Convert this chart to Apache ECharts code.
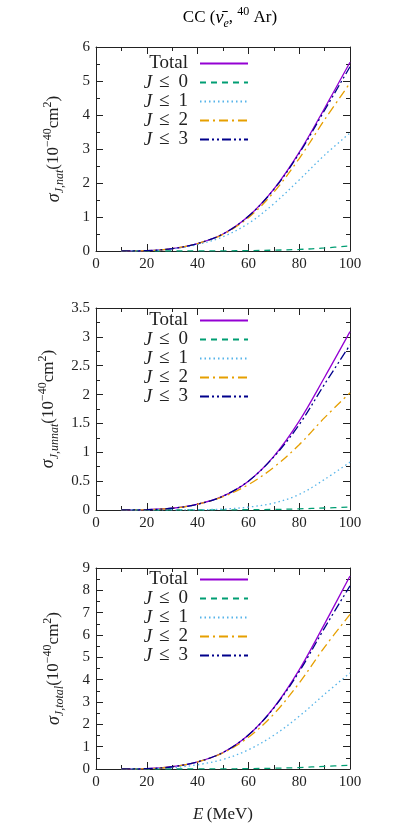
<!DOCTYPE html>
<html>
<head>
<meta charset="utf-8">
<script src="https://cdn.jsdelivr.net/npm/echarts@6/dist/echarts.min.js"></script>
<style>
html,body{margin:0;padding:0;background:#fff;}
#c{width:394px;height:834px;}
</style>
</head>
<body>
<div id="c"></div>
<script>
// ---- data ----
const energies = [10, 20, 30, 40, 50, 60, 70, 80, 90, 100];
const seriesNames = ['Total', 'J≤0', 'J≤1', 'J≤2', 'J≤3'];
const xTicks = [0, 20, 40, 60, 80, 100];

// panel 1: natural parity
const natTotal = [0, 0.01, 0.07, 0.22, 0.50, 1.02, 1.82, 2.90, 4.20, 5.55];
const natJ0    = [0, 0, 0, 0.002, 0.005, 0.01, 0.025, 0.045, 0.09, 0.15];
const natJ1    = [0, 0.01, 0.06, 0.19, 0.42, 0.81, 1.39, 2.09, 2.82, 3.47];
const natJ2    = [0, 0.01, 0.07, 0.22, 0.49, 0.98, 1.73, 2.72, 3.86, 4.94];
const natJ3    = [0, 0.01, 0.07, 0.22, 0.50, 1.02, 1.81, 2.87, 4.14, 5.42];

// panel 2: unnatural parity
const unnTotal = [0, 0.005, 0.03, 0.10, 0.24, 0.50, 0.93, 1.54, 2.30, 3.09];
const unnJ0    = [0, 0, 0, 0, 0.002, 0.005, 0.01, 0.02, 0.035, 0.05];
const unnJ1    = [0, 0, 0.002, 0.005, 0.015, 0.05, 0.12, 0.27, 0.53, 0.83];
const unnJ2    = [0, 0.005, 0.03, 0.10, 0.23, 0.44, 0.74, 1.13, 1.60, 2.03];
const unnJ3    = [0, 0.005, 0.03, 0.10, 0.24, 0.50, 0.92, 1.48, 2.18, 2.86];

// panel 3: total
const totTotal = [0, 0.015, 0.10, 0.32, 0.74, 1.52, 2.75, 4.44, 6.50, 8.64];
const totJ0    = [0, 0, 0, 0.002, 0.007, 0.015, 0.035, 0.065, 0.12, 0.17];
const totJ1    = [0, 0.01, 0.06, 0.19, 0.43, 0.86, 1.51, 2.36, 3.35, 4.30];
const totJ2    = [0, 0.015, 0.10, 0.32, 0.72, 1.42, 2.46, 3.85, 5.46, 6.92];
const totJ3    = [0, 0.015, 0.10, 0.32, 0.74, 1.52, 2.73, 4.36, 6.32, 8.20];

const yMax = [6, 3.5, 9];
const yStep = [1, 0.5, 1];
const ySub = ['J,nat', 'J,unnat', 'J,total'];

// ---- styles ----
const FONT = 'Liberation Serif';
const AX = '#222';
const colors = ['#9400D3', '#009E73', '#56B4E9', '#E69F00', '#00008B'];
const dashes = ['solid', [6, 5], [1.5, 3], [9, 4, 2, 4], [9, 3, 2, 3, 2, 3]];
const panels = [
  [natTotal, natJ0, natJ1, natJ2, natJ3],
  [unnTotal, unnJ0, unnJ1, unnJ2, unnJ3],
  [totTotal, totJ0, totJ1, totJ2, totJ3]
];
const grids = [
  {left: 96, right: 44, top: 47, height: 204},
  {left: 96, right: 44, top: 308, height: 202},
  {left: 96, right: 44, top: 568, height: 201}
];
const legendTops = [49, 306, 565];

const rich = {
  n: {fontFamily: FONT, fontSize: 17, color: AX, lineHeight: 24, verticalAlign: 'middle'},
  g: {fontFamily: FONT, fontSize: 18, fontStyle: 'italic', color: AX, lineHeight: 24, verticalAlign: 'middle'},
  sub: {fontFamily: FONT, fontSize: 12, fontStyle: 'italic', color: AX, lineHeight: 12, verticalAlign: 'bottom'},
  sup: {fontFamily: FONT, fontSize: 12, color: AX, lineHeight: 12, verticalAlign: 'top'},
  i: {fontFamily: FONT, fontSize: 17, fontStyle: 'italic', color: AX}
};
const legRich = {
  n: {fontFamily: FONT, fontSize: 19, color: AX, lineHeight: 16},
  i: {fontFamily: FONT, fontSize: 19, fontStyle: 'italic', color: AX, lineHeight: 16},
  s: {width: 7, lineHeight: 16},
  t: {width: 9, lineHeight: 16}
};

const option = {
  animation: false,
  backgroundColor: '#fff',
  grid: grids,
  xAxis: [], yAxis: [], series: [], legend: [],
  graphic: [{
    type: 'text', x: 230, y: 18,
    style: {
      text: '{n|CC (}{g|ν̄}{sub|e}{n|, }{sup|40}{n| Ar)}',
      rich: rich, align: 'center', verticalAlign: 'middle'
    }
  }]
};

for (let p = 0; p < 3; p++) {
  const tickCommon = {show: true, inside: true, length: 7, lineStyle: {color: AX, width: 1}};
  const minor = {show: true, splitNumber: 2, length: 4, lineStyle: {color: AX, width: 1}};
  option.xAxis.push({
    gridIndex: p, type: 'value', min: 0, max: 100, interval: 20, position: 'bottom',
    axisLine: {show: true, onZero: false, lineStyle: {color: AX, width: 1}},
    axisTick: tickCommon, minorTick: minor, splitLine: {show: false},
    axisLabel: {show: true, margin: 6, fontFamily: FONT, fontSize: 15, color: AX,
      formatter: v => xTicks.indexOf(v) >= 0 ? String(v) : ''},
    name: p === 2 ? '{i|E} {n|(MeV)}' : '', nameLocation: 'middle', nameGap: 34,
    nameTextStyle: {rich: rich}
  });
  option.xAxis.push({
    gridIndex: p, type: 'value', min: 0, max: 100, interval: 20, position: 'top',
    axisLine: {show: true, onZero: false, lineStyle: {color: AX, width: 1}},
    axisTick: tickCommon, minorTick: minor, splitLine: {show: false},
    axisLabel: {show: false}
  });
  option.yAxis.push({
    gridIndex: p, type: 'value', min: 0, max: yMax[p], interval: yStep[p], position: 'left',
    axisLine: {show: true, onZero: false, lineStyle: {color: AX, width: 1}},
    axisTick: tickCommon, minorTick: minor, splitLine: {show: false},
    axisLabel: {show: true, margin: 6, fontFamily: FONT, fontSize: 15, color: AX},
    name: '{g|σ}{sub|' + ySub[p] + '}{n|(10}{sup|−40}{n|cm}{sup|2}{n|)}',
    nameLocation: 'middle', nameGap: 30, nameRotate: 90,
    nameTextStyle: {rich: rich}
  });
  option.yAxis.push({
    gridIndex: p, type: 'value', min: 0, max: yMax[p], interval: yStep[p], position: 'right',
    axisLine: {show: true, onZero: false, lineStyle: {color: AX, width: 1}},
    axisTick: tickCommon, minorTick: minor, splitLine: {show: false},
    axisLabel: {show: false}
  });
  for (let s = 0; s < 5; s++) {
    option.series.push({
      type: 'line', name: seriesNames[s], xAxisIndex: 2 * p, yAxisIndex: 2 * p,
      data: energies.map((e, k) => [e, panels[p][s][k]]),
      smooth: 0.35, symbol: 'none', clip: true,
      lineStyle: {color: colors[s], width: 1.3, type: dashes[s]},
      itemStyle: {color: colors[s]}, z: 2 + s
    });
  }
  option.legend.push({
    orient: 'vertical', left: 127, top: legendTops[p],
    itemWidth: 48, itemHeight: 10, itemGap: 0, align: 'right',
    data: seriesNames, selectedMode: false,
    itemStyle: {opacity: 0},
    formatter: name => name === 'Total' ? '{n|Total}' : '{i|J}{s|}{n|≤}{t|}{n|' + name.slice(2) + '}',
    textStyle: {width: 56, align: 'right', padding: [0, 7, 0, 0], fontFamily: FONT, fontSize: 19, color: AX,
      lineHeight: 16, rich: legRich}
  });
}

const chart = echarts.init(document.getElementById('c'), null, {renderer: 'canvas'});
chart.setOption(option);
</script>
</body>
</html>
